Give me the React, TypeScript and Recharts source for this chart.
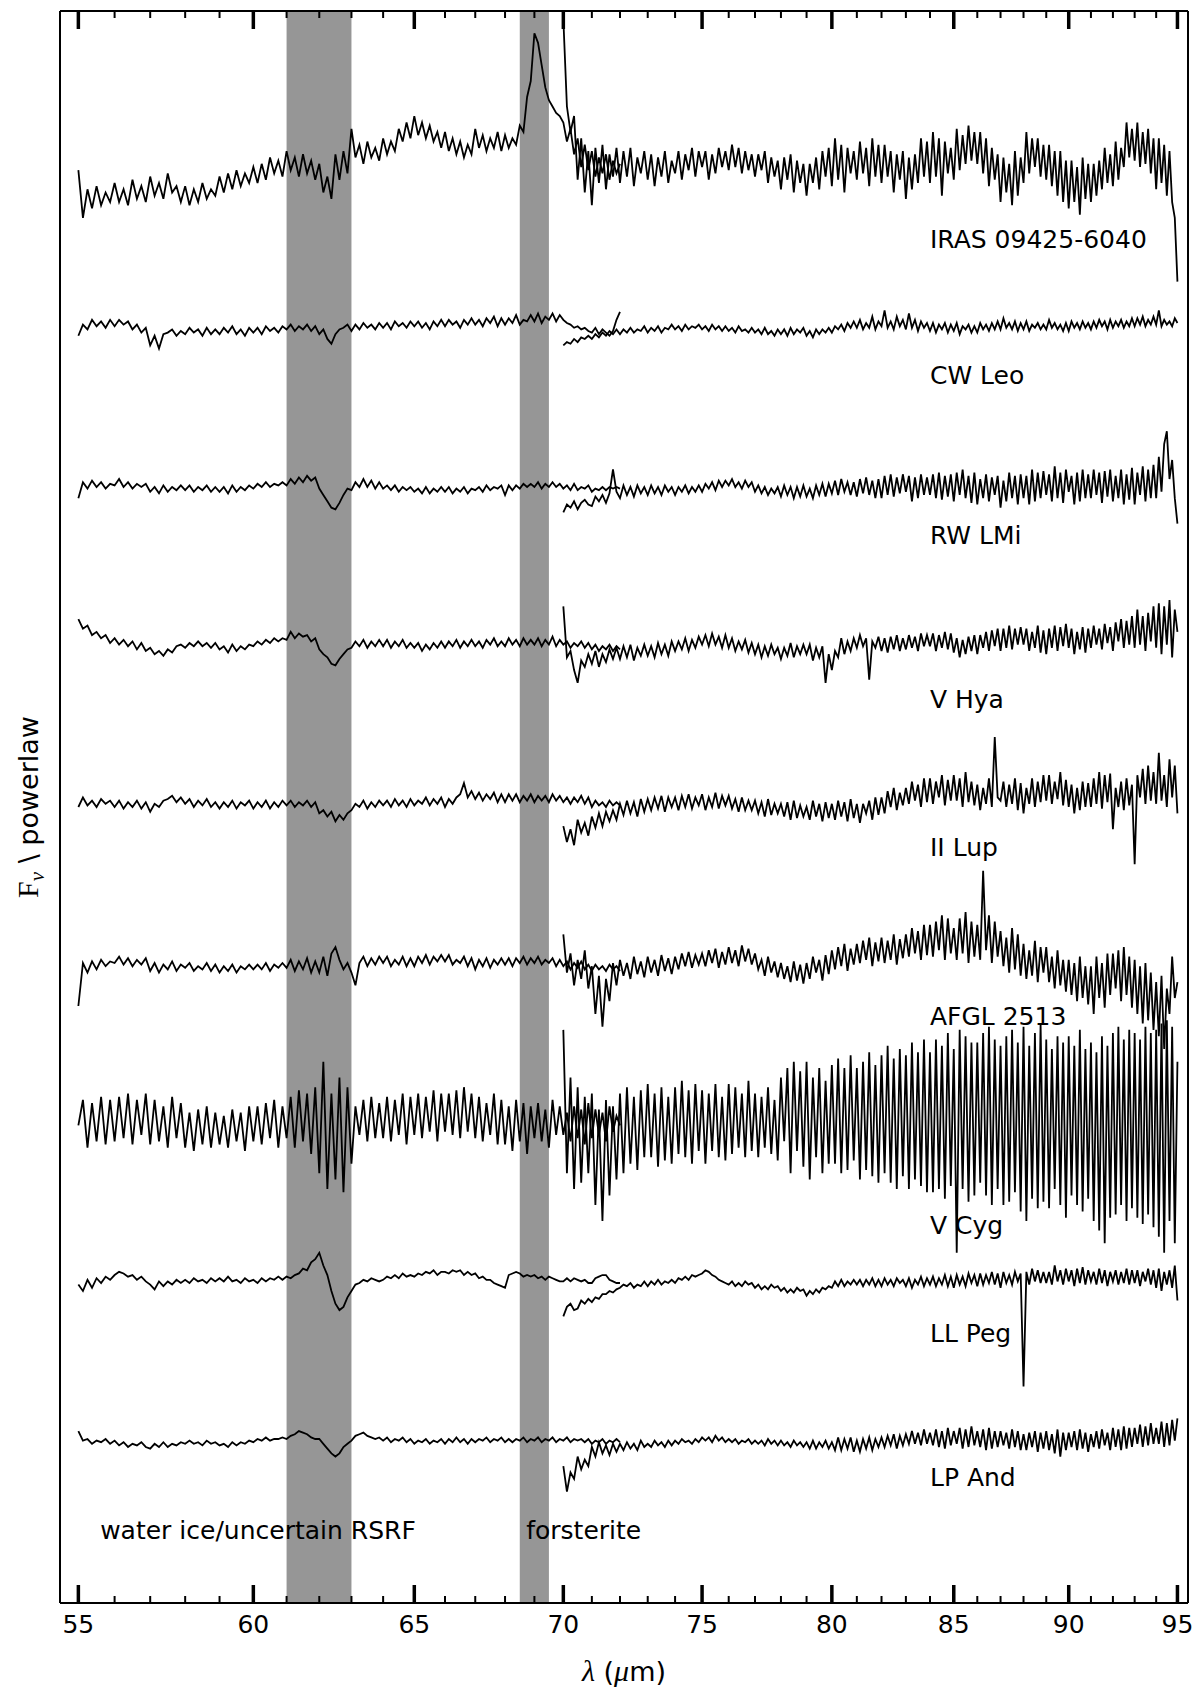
import React from "react";
import { LineChart, Line, XAxis, YAxis, ReferenceArea, ReferenceDot } from "recharts";

// wavelength grid: blue band starts at 55 um, red band at 70 um, 0.125 um apart
const STEP = 0.125;
const BLUE_START = 55;
const RED_START = 70;

const xTicks = [
  55, 56, 57, 58, 59, 60, 61, 62, 63, 64, 65, 66, 67, 68, 69, 70, 71, 72, 73, 74, 75,
  76, 77, 78, 79, 80, 81, 82, 83, 84, 85, 86, 87, 88, 89, 90, 91, 92, 93, 94, 95,
];
const majorTicks = [55, 60, 65, 70, 75, 80, 85, 90, 95];

const names = ["IRAS 09425-6040", "CW Leo", "RW LMi", "V Hya", "II Lup", "AFGL 2513", "V Cyg", "LL Peg", "LP And"];
const offsets = [9, 8, 7, 6, 5, 4, 3, 2, 1];
const labelY = [8.51, 7.66, 6.65, 5.62, 4.69, 3.63, 2.32, 1.64, 0.735];
const labelX = 84;

const bandStart = [61, 68.5];
const bandEnd = [63, 69.5];
const bandText = ["water ice/uncertain RSRF", "forsterite"];
const bandTextX = [55.6, 68.72];
const bandTextY = 0.4;

// values: deviation from each spectrum's offset, in hundredths; one row per micron
const irasBlue = [
  0, -30, -12, -24, -10, -22, -14, -20,
  -8, -20, -12, -22, -6, -18, -10, -20,
  -4, -16, -8, -18, -2, -14, -10, -20,
  -10, -22, -12, -20, -8, -18, -12, -16,
  -4, -14, -2, -12, 0, -10, -2, -8,
  2, -8, 4, -6, 8, -2, 6, -4,
  12, 0, 8, -4, 10, -2, 6, -6,
  4, -14, -4, -18, 10, -6, 12, -2,
  26, 8, 16, 4, 18, 8, 14, 6,
  20, 10, 18, 12, 26, 18, 30, 20,
  34, 22, 30, 20, 28, 18, 24, 14,
  24, 12, 20, 10, 18, 8, 16, 10,
  26, 14, 22, 12, 20, 14, 24, 12,
  22, 14, 20, 16, 28, 24, 46, 56,
  86, 80, 66, 52, 44, 40, 36, 34,
  30, 18, 26, 10, 20, 2, 16, 0,
  12, -4, 8, -2, 10, -6, 6, -2,
  4,
];
const irasRed = [
  95, 40, 24, 34, -6, 20, -14, 12,
  -22, 14, -8, 16, -12, 10, -4, 14,
  -8, 12, -4, 14, -10, 8, -2, 12,
  -6, 10, -10, 8, -4, 12, -8, 6,
  -2, 12, -6, 10, 0, 14, -4, 12,
  2, 12, -6, 10, -2, 14, 2, 12,
  0, 16, 2, 14, -2, 12, 0, 10,
  -4, 10, 0, 12, -8, 8, -4, 6,
  -12, 8, -6, 10, -14, 6, -8, 4,
  -16, 4, -8, 8, -12, 12, -4, 14,
  -10, 20, -6, 16, -14, 14, -2, 12,
  -6, 18, -2, 14, -10, 20, -4, 16,
  -8, 16, -4, 12, -14, 10, -6, 12,
  -18, 8, -12, 10, -8, 20, -4, 18,
  -8, 24, -4, 20, -16, 18, -2, 14,
  -6, 26, 0, 22, 4, 28, 6, 24,
  4, 24, -2, 20, -10, 14, -6, 10,
  -20, 8, -14, 4, -22, 12, -16, 8,
  -8, 24, -2, 20, 2, 20, -4, 16,
  -6, 16, -10, 12, -16, 12, -20, 6,
  -24, 6, -20, 2, -28, 8, -18, 4,
  -20, 4, -16, 6, -12, 14, -8, 10,
  -10, 18, -6, 14, 2, 30, 8, 26,
  6, 30, 2, 24, 4, 26, -2, 20,
  -12, 20, -8, 16, -16, 12, -20, -30,
  -70,
];

const cwLeoBlue = [
  -4, 3, 0, 6, 2, 5, 1, 6,
  2, 6, 3, 5, 0, 3, -2, 1,
  -10, -4, -12, -3, -2, 0, -4, -1,
  -3, 1, -2, 0, -4, 1, -3, 0,
  -3, 1, -2, 2, -3, 0, -4, 1,
  -2, 1, -3, 2, -1, 1, -2, 2,
  0, 3, -1, 2, 0, 3, -1, 2,
  -3, 0, -6, -9, -3, 0, 1, 3,
  -1, 3, 0, 4, 1, 3, 0, 4,
  1, 4, 0, 5, 2, 4, 1, 5,
  2, 5, 1, 4, 0, 5, 2, 6,
  2, 6, 3, 5, 1, 6, 3, 7,
  3, 6, 2, 7, 4, 8, 2, 7,
  3, 7, 4, 9, 3, 6, 5, 9,
  5, 10, 4, 8, 6, 10, 5, 9,
  6, 4, 3, 1, 2, 0, 1, -1,
  -2, 1, -3, 0, -2, -4, -1, 6,
  11,
];
const cwLeoRed = [
  -10, -8, -9, -6, -8, -5, -6, -4,
  -6, -3, -5, -2, -4, -1, -3, 0,
  -3, 0, -2, 1, -2, 0, -1, 2,
  -2, 1, -1, 2, -2, 1, 0, 3,
  0, 2, -1, 3, 0, 2, 1, 3,
  0, 2, -1, 3, 0, 2, -1, 2,
  -1, 1, -2, 2, -1, 0, -2, 1,
  -2, 0, -3, 1, -3, -1, -4, 0,
  -3, 0, -4, 1, -3, 0, -2, 1,
  -4, -1, -5, 0, -3, 0, -2, 1,
  -2, 2, 0, 3, -1, 4, 1, 5,
  1, 6, 0, 4, 1, 8, 0, 5,
  2, 12, 1, 5, 0, 8, 2, 6,
  0, 10, 1, 6, -1, 5, 1, 4,
  -1, 4, -2, 3, 0, 4, -2, 3,
  -1, 4, -3, 2, 0, 3, -2, 2,
  -2, 4, 0, 3, -1, 4, 0, 5,
  0, 7, 1, 4, 0, 5, -1, 4,
  0, 5, -1, 3, 1, 4, 0, 3,
  0, 6, 1, 4, 0, 3, -1, 4,
  -1, 5, 1, 4, 0, 5, 1, 4,
  0, 5, 1, 6, 2, 5, 0, 6,
  1, 5, 2, 6, 1, 5, 2, 7,
  2, 7, 3, 8, 2, 6, 3, 8,
  3, 12, 2, 6, 3, 5, 2, 7,
  4,
];

const rwLmiBlue = [
  -6, 4, 0, 5, 1, 4, 0, 3,
  2, 6, 1, 4, 0, 3, 1, 3,
  -2, 1, -3, 2, -2, 1, -1, 2,
  -1, 2, -2, 1, -1, 2, -2, 1,
  -2, 1, -3, 2, -2, 1, -1, 2,
  0, 3, 1, 4, 1, 3, 2, 4,
  2, 6, 3, 7, 4, 8, 5, 7,
  0, -4, -8, -12, -13, -9, -4, 0,
  -1, 4, 1, 6, 1, 5, 0, 4,
  0, 2, -1, 2, -2, 1, -1, 1,
  -2, 0, -3, 1, -3, 0, -2, 1,
  -2, 1, -3, 0, -2, 1, -3, 0,
  -1, 1, -2, 2, -1, 1, 0, 2,
  -4, 2, -1, 2, 0, 3, 1, 3,
  1, 4, 0, 3, 1, 4, 1, 3,
  0, 2, -1, 3, -1, 1, 0, 2,
  -2, 0, -1, 1, -1, 1, 0, 1,
  0,
];
const rwLmiRed = [
  -15, -10, -12, -8, -13, -9, -7, -10,
  -11, -5, -8, -4, -9, -3, 12, -2,
  -6, 2, -4, 1, -5, 2, -3, 1,
  -4, 2, -3, 1, -4, 2, -2, 1,
  -4, 1, -2, 2, -3, 1, -2, 2,
  -2, 3, 0, 4, -1, 5, 1, 5,
  2, 6, 1, 4, 0, 5, 1, 4,
  -2, 2, -3, 1, -4, 0, -3, 1,
  -5, 2, -4, 1, -6, 1, -5, 2,
  -5, 0, -6, 2, -4, 3, -5, 3,
  -3, 5, -4, 6, -2, 4, -4, 4,
  -5, 6, -3, 7, -4, 5, -6, 6,
  -6, 8, -4, 9, -5, 7, -3, 9,
  -2, 8, -8, 7, -6, 9, -4, 7,
  -4, 9, -6, 10, -7, 8, -5, 9,
  -8, 10, -4, 12, -6, 8, -9, 10,
  -10, 6, -6, 9, -8, 7, -4, 8,
  -12, 5, -8, 10, -6, 8, -10, 9,
  -6, 8, -10, 12, -8, 10, -6, 11,
  -4, 9, -8, 14, -6, 10, -9, 12,
  -2, 8, -10, 10, -8, 12, -6, 9,
  -6, 12, -4, 10, -9, 11, -5, 12,
  -8, 8, -6, 12, -10, 9, -7, 13,
  -10, 10, -4, 14, -8, 12, -6, 15,
  -6, 20, -2, 28, 36, 6, 18, -6,
  -22,
];

const vHyaBlue = [
  18, 12, 14, 8, 10, 6, 8, 3,
  6, 2, 5, 1, 4, -1, 3, -2,
  0, -4, -2, -5, -1, -3, 1, 2,
  0, 3, 1, 4, 1, 3, 0, 3,
  -1, 1, -3, 2, -2, 1, -1, 2,
  1, 4, 2, 5, 3, 6, 4, 6,
  5, 10, 6, 9, 7, 8, 4, 6,
  -1, -4, -6, -10, -11, -7, -4, -1,
  0, 4, 1, 5, 0, 4, 1, 5,
  1, 5, 0, 4, 1, 5, 0, 3,
  0, 3, -2, 2, -1, 3, 0, 4,
  0, 4, 1, 5, 0, 4, 1, 5,
  1, 4, 0, 5, 2, 6, 1, 4,
  1, 6, 2, 5, 1, 6, 2, 5,
  2, 6, 1, 5, 2, 7, 1, 5,
  2, 4, 0, 3, 1, 4, 0, 3,
  -1, 2, -2, 1, -1, 2, -2, 1,
  -1,
];
const vHyaRed = [
  26, -6, -2, -14, -22, -8, -12, -4,
  -10, -2, -12, -4, -9, -1, -7, 0,
  -7, 1, -6, 2, -8, 0, -5, 2,
  -5, 1, -6, 3, -4, 2, -5, 4,
  -2, 4, -1, 6, -2, 5, 0, 7,
  2, 8, 1, 9, 2, 7, 0, 8,
  0, 6, -2, 4, -1, 5, -3, 3,
  -4, 2, -6, 1, -5, 2, -4, 0,
  -7, 0, -5, 3, -6, 1, -4, 2,
  -4, 2, -8, 0, -6, 1, -22, -4,
  -14, -2, -6, 6, -4, 4, -2, 6,
  0, 8, 1, 6, -20, 4, 0, 7,
  -2, 6, -3, 7, -1, 8, -2, 6,
  -1, 8, 0, 7, -2, 9, 1, 8,
  1, 9, -2, 8, 0, 10, -1, 9,
  -3, 6, -6, 5, -4, 7, -2, 8,
  -4, 8, 0, 10, -2, 11, 1, 12,
  -2, 12, 0, 14, -1, 12, 2, 13,
  2, 12, -2, 10, 0, 14, -3, 11,
  -4, 12, 0, 14, -2, 13, 1, 15,
  0, 12, -4, 10, -1, 13, -3, 12,
  0, 14, 2, 12, -1, 15, 3, 13,
  -2, 16, 4, 18, 0, 17, 2, 20,
  0, 24, 2, 20, -2, 22, 4, 26,
  0, 28, -4, 26, 2, 30, -6, 24,
  10,
];

const iiLupBlue = [
  0, 6, 1, 4, 0, 5, 2, 4,
  0, 4, -1, 3, 0, 4, -1, 3,
  -3, 2, 0, 4, 5, 7, 3, 6,
  2, 5, 0, 4, 1, 5, 0, 3,
  -1, 3, 0, 4, -1, 3, 1, 4,
  -1, 3, 0, 4, -1, 3, 0, 4,
  1, 4, 0, 3, 1, 4, 0, 3,
  -4, -2, -6, -3, -9, -5, -8, -4,
  -2, 2, 0, 4, -1, 3, 0, 4,
  1, 4, 0, 5, 1, 4, 0, 5,
  1, 4, 2, 6, 1, 5, 2, 6,
  0, 5, 2, 6, 8, 15, 6, 10,
  5, 9, 4, 8, 5, 9, 3, 8,
  3, 8, 4, 8, 3, 7, 4, 8,
  3, 7, 4, 7, 3, 8, 4, 7,
  3, 6, 2, 6, 3, 7, 2, 6,
  0, 4, 1, 3, 0, 4, 1, 3,
  1,
];
const iiLupRed = [
  -12, -22, -14, -24, -8, -16, -10, -18,
  -6, -13, -4, -12, -3, -9, -2, -8,
  2, -5, 4, -4, 3, -6, 5, -3,
  5, -2, 6, -1, 7, -3, 6, 0,
  6, -2, 7, 0, 8, -1, 6, 1,
  8, -2, 6, 0, 9, -1, 7, 1,
  7, -1, 5, -3, 6, -2, 4, -2,
  4, -4, 3, -6, 5, -5, 2, -4,
  2, -6, 3, -8, 4, -7, 1, -6,
  0, -8, 4, -6, 2, -9, 3, -7,
  2, -8, 4, -6, 3, -9, 5, -7,
  2, -10, 2, -4, 4, -8, 6, -5,
  6, -4, 10, 0, 12, -2, 9, 1,
  12, 2, 16, 4, 14, 0, 18, 3,
  18, 2, 16, 6, 20, 1, 17, 4,
  20, 4, 18, 0, 22, 3, 16, 1,
  14, -2, 12, 2, 18, 0, 44, 6,
  4, 16, 0, 14, 2, 18, -2, 15,
  -4, 12, 2, 18, 0, 16, 3, 20,
  4, 20, 2, 16, 5, 22, 1, 17,
  0, 14, -4, 12, -2, 16, 0, 15,
  0, 18, 2, 22, -1, 20, 3, 21,
  -14, 12, 0, 16, -2, 18, 1, 14,
  -36, 20, 6, 24, 2, 26, 4, 22,
  2, 34, 4, 20, 0, 30, 6, 26,
  -4,
];

const afglBlue = [
  -25, 2, -4, 3, -2, 4, 0, 3,
  2, 6, 1, 5, 0, 4, 1, 5,
  -3, 2, -4, 1, -2, 3, -3, 1,
  -1, 2, -3, 0, -2, 2, -3, 1,
  -4, 0, -3, 1, -4, 0, -2, 1,
  -2, 1, -2, 2, -3, 1, -1, 2,
  -1, 4, -3, 3, -2, 5, -4, 3,
  -4, 6, -6, 8, 12, 4, -2, 2,
  -4, -12, 2, 6, 0, 5, 1, 6,
  2, 6, 0, 4, 1, 6, 0, 5,
  0, 6, 2, 7, 1, 6, 3, 7,
  3, 7, 1, 4, 2, 6, 0, 5,
  -2, 4, 0, 5, -1, 4, 1, 5,
  1, 5, 0, 5, 2, 6, 1, 5,
  2, 6, 1, 4, 2, 5, 0, 4,
  0, 3, -2, 2, -1, 3, -2, 1,
  -3, 1, -2, 0, -3, 1, -2, 0,
  -3,
];
const afglRed = [
  20, -4, 8, -12, 4, -8, 10, -14,
  0, -30, -6, -38, -8, -22, 2, -12,
  4, -6, 2, -8, 6, -5, 3, -7,
  6, -4, 4, -6, 7, -3, 5, -5,
  6, -2, 8, 0, 9, -1, 7, 1,
  8, 0, 10, 2, 11, -1, 9, 1,
  12, 2, 10, 0, 13, 3, 11, 1,
  8, -2, 4, -6, 6, -4, 3, -7,
  2, -8, 0, -10, 3, -9, 1, -11,
  2, -8, 6, -4, 4, -9, 7, -5,
  10, -2, 12, 0, 14, -3, 11, 1,
  14, 2, 16, 4, 18, 0, 15, 3,
  18, 2, 16, 4, 20, 1, 17, 5,
  20, 6, 24, 8, 22, 4, 26, 7,
  26, 6, 28, 10, 32, 4, 30, 8,
  24, 4, 30, 8, 34, 2, 28, 6,
  26, 4, 60, 10, 32, 2, 28, 6,
  22, 0, 18, -4, 24, -2, 20, -6,
  14, -8, 10, -6, 16, -10, 12, -4,
  12, -10, 6, -14, 10, -12, 4, -16,
  4, -18, 2, -22, 6, -20, 0, -24,
  0, -30, 6, -20, 2, -26, 8, -18,
  8, -14, 10, -22, 12, -18, 6, -26,
  4, -30, 0, -36, 2, -34, -4, -40,
  -10, -44, -6, -52, -14, -30, 6, -20,
  -10,
];

const vCygBlue = [
  0, 16, -14, 14, -10, 18, -12, 16,
  -10, 18, -8, 20, -12, 16, -6, 20,
  -12, 16, -10, 12, -14, 18, -8, 14,
  -14, 8, -16, 10, -12, 12, -14, 8,
  -12, 6, -14, 10, -10, 8, -16, 12,
  -10, 12, -12, 14, -8, 16, -14, 12,
  -8, 18, -14, 22, -10, 20, -18, 24,
  -30, 40, -40, 20, -34, 30, -42, 24,
  -24, 12, -6, 16, -10, 18, -8, 14,
  -8, 18, -10, 16, -6, 20, -12, 18,
  -6, 20, -8, 18, -4, 22, -10, 20,
  -4, 20, -6, 22, -8, 24, -4, 20,
  -8, 18, -10, 14, -6, 20, -12, 16,
  -12, 12, -16, 16, -10, 14, -18, 12,
  -8, 14, -10, 10, -14, 16, -6, 12,
  -6, 8, -10, 12, -8, 10, -12, 14,
  -8, 10, -6, 8, -10, 12, -4, 6,
  0,
];
const vCygRed = [
  60, -30, 30, -40, 24, -36, 18, -30,
  20, -50, 10, -60, 16, -44, 12, -34,
  20, -30, 24, -24, 18, -28, 22, -20,
  26, -20, 20, -26, 24, -22, 18, -24,
  24, -18, 28, -20, 22, -24, 26, -16,
  22, -24, 20, -16, 26, -20, 18, -22,
  26, -18, 24, -14, 20, -20, 28, -16,
  20, -20, 18, -14, 24, -18, 16, -22,
  30, -10, 36, -30, 40, -16, 34, -26,
  40, -34, 30, -20, 36, -30, 28, -24,
  38, -24, 42, -30, 36, -28, 44, -22,
  36, -34, 40, -28, 46, -32, 38, -36,
  44, -30, 50, -36, 42, -40, 48, -32,
  44, -40, 52, -34, 46, -38, 54, -42,
  46, -42, 54, -40, 50, -46, 58, -38,
  48, -80, 60, -40, 56, -48, 52, -44,
  52, -36, 58, -44, 62, -50, 54, -40,
  50, -50, 56, -48, 60, -42, 52, -54,
  62, -60, 50, -46, 58, -52, 64, -48,
  54, -52, 48, -40, 56, -50, 52, -58,
  56, -44, 50, -50, 60, -54, 48, -46,
  52, -60, 46, -66, 56, -74, 50, -58,
  58, -56, 62, -50, 54, -60, 60, -52,
  58, -58, 54, -62, 62, -56, 58, -64,
  60, -70, 64, -80, 66, -60, 62, -74,
  40,
];

const llPegBlue = [
  0, -4, 3, -2, 4, 1, 5, 3,
  6, 8, 7, 5, 6, 3, 5, 2,
  0, -3, 2, -1, 2, 0, 3, 1,
  3, 1, 4, 2, 3, 1, 4, 2,
  4, 2, 5, 2, 3, 1, 4, 2,
  3, 1, 4, 2, 4, 3, 5, 3,
  5, 4, 6, 7, 10, 9, 14, 16,
  20, 12, 6, -4, -12, -16, -14, -8,
  -4, 0, 1, 3, 2, 4, 3, 2,
  3, 5, 4, 6, 4, 7, 5, 6,
  5, 7, 6, 8, 7, 9, 6, 8,
  8, 7, 9, 8, 9, 6, 8, 6,
  7, 4, 5, 3, 3, 1, 0, -1,
  -2, 6, 7, 8, 7, 5, 6, 5,
  6, 4, 5, 3, 5, 4, 3, 2,
  2, 4, 2, 4, 3, 2, 3, 1,
  1, 4, 5, 6, 6, 3, 2, 1,
  1,
];
const llPegRed = [
  -20, -14, -12, -16, -15, -10, -12, -9,
  -11, -8, -9, -6, -6, -4, -5, -3,
  -2, 0, -1, 1, -2, 0, -1, 2,
  -1, 2, 0, 3, 0, 2, 1, 3,
  1, 4, 3, 5, 3, 6, 5, 6,
  7, 9, 8, 6, 5, 3, 2, 1,
  0, 2, -1, 1, -1, 2, 0, 1,
  -2, 0, -3, -1, -3, 0, -2, -1,
  -4, -2, -5, -3, -5, -2, -4, -3,
  -7, -4, -6, -3, -5, -2, -3, -1,
  -2, 2, -1, 3, -1, 2, 0, 3,
  0, 3, -1, 3, 0, 4, -1, 3,
  -1, 4, 0, 3, -1, 4, 1, 3,
  -1, 4, -2, 3, 0, 5, -1, 4,
  0, 5, -1, 4, 0, 6, -1, 5,
  -2, 6, 0, 5, -1, 7, 1, 6,
  -1, 7, 0, 6, 1, 8, 0, 7,
  -2, 8, 1, 6, 0, 8, 2, 7,
  -64, 8, 0, 10, 2, 9, 1, 8,
  1, 8, 0, 12, 2, 9, 0, 10,
  2, 9, -1, 10, 1, 11, 0, 9,
  2, 8, 0, 10, 1, 9, -1, 8,
  2, 9, 0, 8, 1, 10, 0, 9,
  1, 9, -1, 8, 2, 10, 0, 9,
  -2, 10, -4, 8, 0, 9, -2, 12,
  -10,
];

const lpAndBlue = [
  8, 2, 3, 0, 2, 1, 3, 0,
  2, -1, 1, -2, 0, -1, 1, -2,
  -3, 0, -2, 1, -2, 0, -1, 1,
  0, 2, 0, 1, -1, 2, 0, 1,
  -1, 0, -2, 1, -1, 1, 0, 2,
  1, 3, 2, 4, 2, 3, 3, 4,
  3, 5, 6, 8, 7, 6, 4, 3,
  3, 0, -3, -6, -8, -6, -2, 0,
  2, 5, 6, 7, 5, 4, 3, 4,
  2, 4, 1, 3, 2, 4, 1, 3,
  0, 2, 1, 3, 0, 2, 1, 3,
  0, 3, 1, 4, 1, 3, 0, 3,
  1, 3, 2, 4, 1, 3, 2, 4,
  1, 3, 1, 3, 2, 4, 1, 3,
  2, 4, 1, 3, 2, 4, 1, 3,
  2, 4, 1, 3, 2, 3, 1, 3,
  0, 2, 1, 3, 0, 2, 1, 3,
  1,
];
const lpAndRed = [
  -14, -30, -18, -22, -8, -16, -10, -14,
  -2, -8, 1, -6, -1, -7, 0, -5,
  0, -4, 1, -3, 0, -4, 2, -2,
  0, -2, 2, -1, 1, -2, 2, -1,
  2, 0, 3, 1, 2, 0, 3, 1,
  4, 2, 4, 1, 5, 2, 4, 1,
  3, 1, 3, 0, 2, 1, 3, 0,
  2, 0, 2, -1, 3, 0, 2, -1,
  2, -1, 1, -2, 2, -1, 1, -2,
  1, -3, 2, -3, 1, -2, 2, -3,
  1, -4, 4, -4, 3, -3, 4, -5,
  2, -5, 3, -3, 4, -4, 3, -2,
  4, -2, 5, -1, 6, -3, 5, -1,
  6, 0, 8, 0, 7, -1, 9, 0,
  7, -1, 9, -2, 8, -3, 10, -1,
  8, 0, 10, -3, 9, -2, 11, -1,
  8, -2, 9, -4, 10, -3, 8, -2,
  8, -1, 7, -3, 9, -2, 8, -4,
  6, -4, 7, -2, 8, -5, 7, -3,
  8, -4, 6, -6, 9, -8, 7, -4,
  7, -2, 8, -4, 9, -3, 7, -5,
  6, -2, 8, -3, 9, -1, 7, -4,
  10, -2, 9, -4, 11, -3, 10, -2,
  10, 0, 12, -2, 11, -1, 13, 0,
  10, 0, 14, -2, 13, -1, 15, 2,
  16,
];

const blueBands = [irasBlue, cwLeoBlue, rwLmiBlue, vHyaBlue, iiLupBlue, afglBlue, vCygBlue, llPegBlue, lpAndBlue];
const redBands = [irasRed, cwLeoRed, rwLmiRed, vHyaRed, iiLupRed, afglRed, vCygRed, llPegRed, lpAndRed];

const toPoints = (vals: number[], start: number, offset: number) =>
  vals.map((v, i) => ({ x: start + i * STEP, y: offset + v / 100 }));

const FONT = "'DejaVu Sans', sans-serif";
const MATH = "'Liberation Serif', 'DejaVu Serif', serif";
const AXIS_LINE = { stroke: "#000", strokeWidth: 2 };

type TickProps = { x?: number; y?: number; payload?: { value: number } };

function BottomTick({ x = 0, y = 0, payload }: TickProps) {
  const v = payload ? payload.value : 0;
  const major = majorTicks.includes(v);
  return (
    <g>
      <line x1={x} x2={x} y1={y} y2={y - (major ? 18 : 7)} stroke="#000" strokeWidth={major ? 3.5 : 2} />
      {major && (
        <text x={x} y={y + 30} textAnchor="middle" fontFamily={FONT} fontSize={25} fill="#000">
          {v}
        </text>
      )}
    </g>
  );
}

function TopTick({ x = 0, y = 0, payload }: TickProps) {
  const v = payload ? payload.value : 0;
  const major = majorTicks.includes(v);
  return <line x1={x} x2={x} y1={y} y2={y + (major ? 18 : 7)} stroke="#000" strokeWidth={major ? 3.5 : 2} />;
}

const textShape = (label: string) => (p: { cx?: number; cy?: number }) => (
  <text x={p.cx} y={p.cy} fontFamily={FONT} fontSize={25} fill="#000">
    {label}
  </text>
);

export default function App() {
  return (
    <div style={{ position: "absolute", left: 0, top: 0, width: 1200, height: 1694, background: "#fff" }}>
      <LineChart width={1200} height={1694} margin={{ top: 10, right: 11, bottom: 61, left: 59 }}>
        <XAxis
          dataKey="x"
          type="number"
          scale="log"
          domain={[54.5, 95.5]}
          allowDataOverflow
          ticks={xTicks}
          interval={0}
          height={30}
          tickSize={0}
          tickMargin={0}
          tickLine={false}
          tick={BottomTick}
          axisLine={AXIS_LINE}
        />
        <XAxis
          xAxisId="top"
          orientation="top"
          dataKey="x"
          type="number"
          scale="log"
          domain={[54.5, 95.5]}
          allowDataOverflow
          ticks={xTicks}
          interval={0}
          height={1}
          tickSize={0}
          tickMargin={0}
          tickLine={false}
          tick={TopTick}
          axisLine={AXIS_LINE}
        />
        <YAxis
          type="number"
          domain={[0, 10]}
          allowDataOverflow
          width={1}
          tick={false}
          tickLine={false}
          axisLine={AXIS_LINE}
        />
        <YAxis
          yAxisId="right"
          orientation="right"
          type="number"
          domain={[0, 10]}
          allowDataOverflow
          width={1}
          tick={false}
          tickLine={false}
          axisLine={AXIS_LINE}
        />
        {bandStart.map((s, i) => (
          <ReferenceArea key={`band-${i}`} x1={s} x2={bandEnd[i]} fill="#969696" fillOpacity={1} stroke="none" />
        ))}
        {names.map((n, i) => (
          <Line
            key={`blue-${n}`}
            data={toPoints(blueBands[i], BLUE_START, offsets[i])}
            dataKey="y"
            stroke="#000"
            strokeWidth={1.8}
            dot={false}
            activeDot={false}
            isAnimationActive={false}
          />
        ))}
        {names.map((n, i) => (
          <Line
            key={`red-${n}`}
            data={toPoints(redBands[i], RED_START, offsets[i])}
            dataKey="y"
            stroke="#000"
            strokeWidth={1.8}
            dot={false}
            activeDot={false}
            isAnimationActive={false}
          />
        ))}
        {names.map((n, i) => (
          <ReferenceDot key={`lab-${n}`} x={labelX} y={labelY[i]} r={0} shape={textShape(n)} />
        ))}
        {bandText.map((t, i) => (
          <ReferenceDot key={`bt-${i}`} x={bandTextX[i]} y={bandTextY} r={0} shape={textShape(t)} />
        ))}
      </LineChart>
      <svg width={1200} height={1694} style={{ position: "absolute", left: 0, top: 0, pointerEvents: "none" }}>
        <text x={624} y={1681} textAnchor="middle" fontFamily={FONT} fontSize={27} fill="#000">
          <tspan fontFamily={MATH} fontStyle="italic" fontSize={30}>λ</tspan>
          <tspan> (</tspan>
          <tspan fontFamily={MATH} fontStyle="italic" fontSize={30}>μ</tspan>
          <tspan>m)</tspan>
        </text>
        <text transform="translate(38,807) rotate(-90)" textAnchor="middle" fontFamily={FONT} fontSize={27} fill="#000">
          <tspan fontFamily={MATH} fontSize={30}>F</tspan>
          <tspan fontFamily={MATH} fontStyle="italic" fontSize={21} dy={6}>ν</tspan>
          <tspan dy={-6}> \ powerlaw</tspan>
        </text>
      </svg>
    </div>
  );
}
